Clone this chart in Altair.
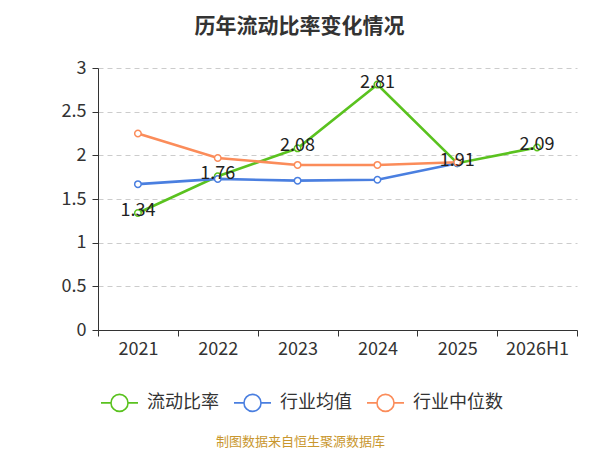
import altair as alt
import pandas as pd

categories = ["2021", "2022", "2023", "2024", "2025", "2026H1"]
series_names = ["流动比率", "行业均值", "行业中位数"]
current_ratio = [1.34, 1.76, 2.08, 2.81, 1.91, 2.09]
industry_mean = [1.67, 1.73, 1.71, 1.72, 1.91, None]
industry_median = [2.25, 1.97, 1.89, 1.89, 1.92, None]
colors = ["#5ac21f", "#4a7fe0", "#fb8c5a"]

rows = []
for name, vals in zip(series_names, [current_ratio, industry_mean, industry_median]):
    for c, v in zip(categories, vals):
        if v is not None:
            rows.append({"year": c, "series": name, "value": v})
df = pd.DataFrame(rows)
labels_df = df[df["series"] == "流动比率"].copy()
labels_df["label"] = labels_df["value"].map(lambda v: f"{v:.2f}")

FONT = "Noto Sans CJK SC"

x_enc = alt.X(
    "year:N",
    sort=categories,
    scale=alt.Scale(type="band", domain=categories, paddingInner=0, paddingOuter=0),
    axis=alt.Axis(
        title="制图数据来自恒生聚源数据库",
        titleColor="#c9972e",
        titleFont=FONT,
        titleFontSize=13,
        titleFontWeight="normal",
        titleX=202,
        titleY=111,
        titleAlign="center",
        titleBaseline="middle",
        labelAngle=0,
        labelFont=FONT,
        labelFontSize=18,
        labelColor="#333333",
        labelPadding=4,
        tickBand="extent",
        tickSize=6,
        tickColor="#333333",
        domainColor="#333333",
        grid=False,
    ),
)
y_enc = alt.Y(
    "value:Q",
    scale=alt.Scale(domain=[0, 3], nice=False),
    axis=alt.Axis(
        title=None,
        values=[0, 0.5, 1, 1.5, 2, 2.5, 3],
        format="~g",
        labelFont=FONT,
        labelFontSize=18,
        labelColor="#333333",
        labelPadding=6,
        tickSize=6,
        tickColor="#333333",
        domainColor="#333333",
        grid=True,
        gridDash=[5, 4],
        gridColor="#cccccc",
    ),
)
color_enc = alt.Color(
    "series:N",
    scale=alt.Scale(domain=series_names, range=colors),
    legend=alt.Legend(
        title=None,
        orient="none",
        direction="horizontal",
        legendX=2,
        legendY=315,
        padding=0,
        labelFont=FONT,
        labelFontSize=18,
        labelColor="#333333",
        labelOffset=8,
        columnPadding=11,
        symbolType="M-1,0L-0.46,0M0.46,0L1,0M-0.46,0A0.46,0.46,0,1,1,0.46,0A0.46,0.46,0,1,1,-0.46,0",
        symbolSize=1369,
        symbolStrokeWidth=1.6,
        symbolFillColor="white",
    ),
)

base = alt.Chart(df)
lines = base.mark_line(strokeWidth=2.6).encode(x=x_enc, y=y_enc, color=color_enc)
points = base.mark_point(filled=False, fill="white", size=42, strokeWidth=1.5, opacity=1).encode(
    x=x_enc, y=y_enc, color=color_enc
)
texts = alt.Chart(labels_df).mark_text(
    font=FONT, fontSize=18, color="#222222", baseline="middle", dy=-2
).encode(x=x_enc, y=y_enc, text="label:N")

chart = alt.layer(lines, points, texts).properties(
    width=479,
    height=262,
    padding={"left": 90, "top": 60, "right": 15, "bottom": 125},
    autosize=alt.AutoSizeParams(type="none"),
    title=alt.TitleParams(
        text="历年流动比率变化情况",
        font=FONT,
        fontSize=21,
        fontWeight="bold",
        color="#333333",
        anchor="middle",
        dx=-38,
        offset=11,
        baseline="middle",
    ),
).configure_view(stroke=None)

chart.save("out.html", embed_options={"renderer": "svg", "actions": False})
